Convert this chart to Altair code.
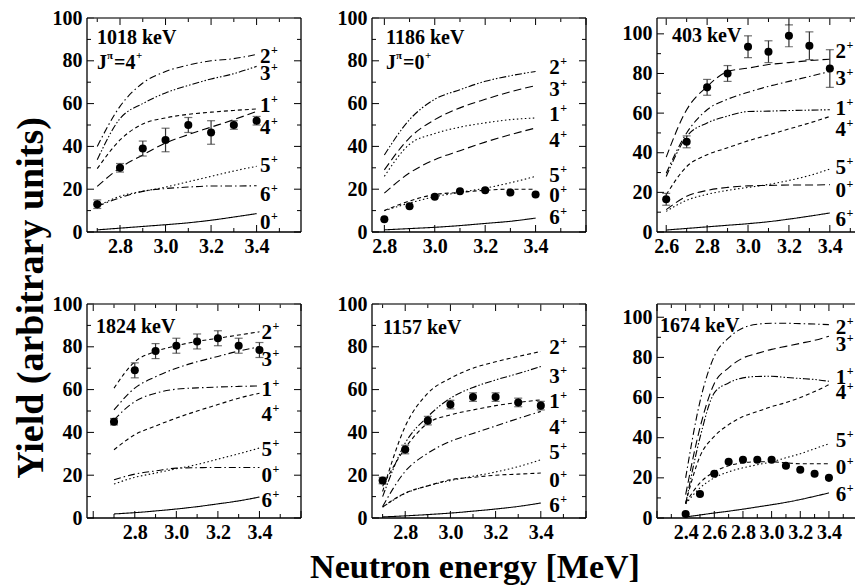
import math
import altair as alt
import pandas as pd

FONT = "Liberation Serif"

DASH_NAMES = ["solid", "dash", "longdash", "dashdot", "dashdot2", "dot"]
DASH_ARRAYS = [[1, 0], [4, 3], [8, 4], [7, 3, 1.5, 3], [7, 2, 1.5, 2, 1.5, 2], [1.5, 2.5]]

# ---------------- Panel 1: 1018 keV, J=4+ ----------------
p1_energy = [2.7, 2.8, 2.9, 3.0, 3.1, 3.2, 3.3, 3.4]
p1_curves = {
    "2+": [40, 58.7, 69.6, 75, 78, 80, 81, 83],
    "3+": [33.8, 53, 60, 65, 68.5, 71.5, 74, 77.4],
    "1+": [29.6, 43, 50.5, 53.3, 55, 56, 56.8, 57.5],
    "4+": [21.3, 30, 36, 41.6, 45.5, 49, 52.5, 56.4],
    "5+": [12, 16.7, 19, 21, 23.5, 26, 28.5, 30.7],
    "6+": [12, 16, 19, 20.3, 21, 21.5, 21.5, 21.6],
    "0+": [1, 1.8, 2.6, 3.4, 4.3, 5.5, 7, 8.6],
}
p1_styles = {"2+": "dashdot", "3+": "dashdot2", "1+": "dash", "4+": "longdash",
             "5+": "dot", "6+": "dashdot", "0+": "solid"}
p1_meas_x = [2.7, 2.8, 2.9, 3.0, 3.1, 3.2, 3.3, 3.4]
p1_meas_y = [13, 30, 39, 43, 50, 46.5, 50, 52]
p1_meas_err = [2, 2, 3.5, 5.5, 3.5, 5.5, 2, 2]
p1_labels = ["2", "3", "1", "4", "5", "6", "0"]
p1_label_y = [82, 74, 58.7, 48.6, 30.7, 17.4, 4]

# ---------------- Panel 2: 1186 keV, J=0+ ----------------
p2_energy = [2.8, 2.9, 3.0, 3.1, 3.2, 3.3, 3.4]
p2_curves = {
    "2+": [36, 52.5, 62, 66.5, 70.4, 73, 75],
    "3+": [29, 44, 52.5, 58, 62, 65.5, 68.4],
    "1+": [26, 41, 46, 49, 51, 52.5, 53.3],
    "4+": [18.2, 27.6, 33.8, 38, 42, 45.5, 48.6],
    "5+": [10, 13.5, 16.5, 18.5, 20.5, 23, 26],
    "0+": [10, 14.5, 17.5, 18.5, 19.5, 20, 20],
    "6+": [1, 1.6, 2.2, 3, 4, 5, 6.5],
}
p2_styles = {"2+": "dashdot2", "3+": "longdash", "1+": "dot", "4+": "longdash",
             "5+": "dot", "0+": "dash", "6+": "solid"}
p2_meas_x = [2.8, 2.9, 3.0, 3.1, 3.2, 3.3, 3.4]
p2_meas_y = [6, 12, 16.5, 19, 19.5, 18.5, 17.5]
p2_labels = ["2", "3", "1", "4", "5", "0", "6"]
p2_label_y = [76.6, 66.5, 54.8, 42.4, 26, 16.7, 6.5]

# ---------------- Panel 3: 403 keV ----------------
p3_energy = [2.6, 2.7, 2.8, 2.9, 3.0, 3.1, 3.2, 3.3, 3.4]
p3_curves = {
    "2+": [37.8, 61.7, 73.4, 81, 82.7, 84.5, 85.5, 86.5, 87.2],
    "3+": [29.7, 50, 61.7, 67, 70.5, 73.5, 76, 78.5, 81],
    "1+": [28, 48.2, 55, 58.5, 60.8, 61, 61.3, 61.5, 61.7],
    "4+": [18.8, 33, 39, 42.5, 46, 49, 52, 55, 58.3],
    "5+": [10.4, 16, 19, 21, 22.5, 24, 26, 28.5, 31.8],
    "0+": [11.3, 18, 21, 22.5, 23.3, 23.5, 23.7, 23.7, 23.9],
    "6+": [1, 1.8, 2.6, 3.4, 4.2, 5.2, 6.5, 8, 9.6],
}
p3_styles = {"2+": "longdash", "3+": "dashdot", "1+": "dashdot2", "4+": "dash",
             "5+": "dot", "0+": "longdash", "6+": "solid"}
p3_meas_x = [2.6, 2.7, 2.8, 2.9, 3.0, 3.1, 3.2, 3.3, 3.4]
p3_meas_y = [16.5, 45.5, 73, 80, 93.5, 91, 99, 94, 82.5]
p3_meas_err = [3, 3, 4, 4, 5.5, 5.5, 5.5, 7, 9.5]
p3_labels = ["2", "3", "1", "4", "5", "0", "6"]
p3_label_y = [91, 77, 62, 51.6, 32.3, 20.5, 6.2]

# ---------------- Panel 4: 1824 keV ----------------
p4_energy = [2.7, 2.8, 2.9, 3.0, 3.1, 3.2, 3.3, 3.4]
p4_curves = {
    "2+": [60.7, 73, 77.8, 80.5, 82.5, 84, 85.5, 87],
    "3+": [50.5, 60.7, 66, 70, 73, 75.5, 78, 80],
    "1+": [45.9, 54.4, 58.3, 60.2, 60.8, 61.2, 61.5, 61.7],
    "4+": [31.9, 38.9, 43, 46.7, 50, 53, 56, 58.3],
    "5+": [15.9, 19, 21, 23, 25, 27.5, 30, 32.7],
    "0+": [17.9, 20.5, 22, 23.3, 23.5, 23.6, 23.6, 23.6],
    "6+": [1.9, 2.5, 3.3, 4.2, 5.3, 6.6, 8, 9.8],
}
p4_styles = {"2+": "dash", "3+": "dashdot", "1+": "dashdot", "4+": "dash",
             "5+": "dot", "0+": "dashdot", "6+": "solid"}
p4_meas_x = [2.7, 2.8, 2.9, 3.0, 3.1, 3.2, 3.3, 3.4]
p4_meas_y = [45, 69, 78, 80.5, 82.5, 84, 80.5, 78.5]
p4_meas_err = [1.5, 3.5, 3.5, 3.5, 3.5, 3.5, 3.5, 3.5]
p4_labels = ["2", "3", "1", "4", "5", "0", "6"]
p4_label_y = [86.3, 73.9, 59.9, 48.2, 31.9, 19.4, 7.8]

# ---------------- Panel 5: 1157 keV ----------------
p5_energy = [2.7, 2.8, 2.9, 3.0, 3.1, 3.2, 3.3, 3.4]
p5_curves = {
    "2+": [12.4, 42.8, 58.3, 65.3, 70, 73, 75.5, 77.8],
    "3+": [10, 35, 47.4, 56, 61, 64.5, 67.5, 70.8],
    "1+": [14.8, 32.7, 44.3, 48.2, 50.5, 52.5, 54, 55.2],
    "4+": [5.4, 21.8, 30.3, 35.8, 39.5, 43, 46.5, 49.8],
    "5+": [5.1, 11.5, 15, 17.5, 19.5, 21.5, 24, 27.2],
    "0+": [5.1, 11.7, 15, 17.9, 19, 20, 20.5, 21],
    "6+": [0.5, 1, 1.6, 2.3, 3.2, 4.2, 5.4, 7],
}
p5_styles = {"2+": "dash", "3+": "dashdot2", "1+": "dash", "4+": "dashdot",
             "5+": "dot", "0+": "dash", "6+": "solid"}
p5_meas_x = [2.7, 2.8, 2.9, 3.0, 3.1, 3.2, 3.3, 3.4]
p5_meas_y = [17.5, 32, 45.5, 53, 56.5, 56.5, 54, 52.5]
p5_meas_err = [1.5, 2, 2, 2, 2, 2, 2, 2]
p5_labels = ["2", "3", "1", "4", "5", "0", "6"]
p5_label_y = [79.3, 66, 54.4, 42, 30.3, 17.1, 5.4]

# ---------------- Panel 6: 1674 keV ----------------
p6_energy = [2.4, 2.5, 2.6, 2.7, 2.8, 2.9, 3.0, 3.1, 3.2, 3.3, 3.4]
p6_curves = {
    "2+": [20, 58, 80.6, 89.7, 94.7, 96.5, 97, 97, 96.8, 96.6, 96.3],
    "3+": [11.6, 45, 67, 74.8, 79.7, 82, 84, 85.5, 87, 88.5, 90.5],
    "1+": [7, 40, 62.3, 67.3, 69.8, 70.5, 70.6, 70, 69.5, 69, 68.1],
    "4+": [7.5, 30.7, 40.7, 46.5, 50.5, 53, 55.5, 57.5, 60, 63, 66.4],
    "5+": [7, 15, 20, 23, 25, 26.5, 28, 30, 32, 34.5, 37],
    "0+": [7.5, 17.5, 23, 26, 27.5, 28, 28, 27.5, 27, 27, 27],
    "6+": [0.5, 1.5, 2.5, 3.4, 4.4, 5.5, 6.6, 7.8, 9.2, 10.8, 12.5],
}
p6_styles = {"2+": "dashdot", "3+": "longdash", "1+": "dashdot2", "4+": "dash",
             "5+": "dot", "0+": "dash", "6+": "solid"}
p6_meas_x = [2.4, 2.5, 2.6, 2.7, 2.8, 2.9, 3.0, 3.1, 3.2, 3.3, 3.4]
p6_meas_y = [2, 12, 22, 28, 29, 29, 29, 26, 24, 22, 20]
p6_labels = ["2", "3", "1", "4", "5", "0", "6"]
p6_label_y = [94.7, 86.4, 69.8, 62.3, 38.2, 24.9, 11.6]

Y_LABELS = [0, 20, 40, 60, 80, 100]


def steps(lo, hi, step):
    k0 = math.ceil(lo / step - 1e-9)
    k1 = math.floor(hi / step + 1e-9)
    return [round(k * step, 4) for k in range(k0, k1 + 1)]


def one():
    return pd.DataFrame({"a": [0]})


def text_px(txt, x, y, size, dy=0, align="left", baseline="middle", angle=0):
    kw = dict(text=txt, font=FONT, fontWeight="bold", fontSize=size, align=align,
              baseline=baseline, color="black")
    if dy:
        kw["dy"] = dy
    if angle:
        kw["angle"] = angle
    return alt.Chart(one()).mark_text(**kw).encode(x=alt.value(x), y=alt.value(y))


def make_panel(energy, curves, styles, mx, my, merr, labels, label_y, label_x,
               xdom, ydom, xlabels, W, H, titles, right_frame=True, extra=None):
    xs = alt.Scale(domain=xdom, nice=False, zero=False)
    ys = alt.Scale(domain=ydom, nice=False, zero=False)
    xaxis = alt.Axis(values=xlabels, format=".1f", title=None, ticks=False, tickSize=0,
                     domain=False, grid=False, labelPadding=4, labelFlush=False,
                     labelOverlap=False, labelFont=FONT, labelFontWeight="bold",
                     labelFontSize=20, labelColor="black")
    yaxis = alt.Axis(values=Y_LABELS, format="d", title=None, ticks=False, tickSize=0,
                     domain=False, grid=False, labelPadding=5, labelFlush=False,
                     labelOverlap=False, labelFont=FONT, labelFontWeight="bold",
                     labelFontSize=20, labelColor="black")

    def X(f):
        return alt.X(f, type="quantitative", scale=xs, axis=xaxis)

    def Y(f):
        return alt.Y(f, type="quantitative", scale=ys, axis=yaxis)

    rows = []
    for name, vals in curves.items():
        for e, v in zip(energy, vals):
            rows.append({"x": e, "y": v, "curve": name, "style": styles[name]})
    cdf = pd.DataFrame(rows)
    layers = [
        alt.Chart(cdf).mark_line(color="black", strokeWidth=1.1, interpolate="monotone").encode(
            x=X("x"), y=Y("y"), detail="curve:N",
            strokeDash=alt.StrokeDash("style:N", scale=alt.Scale(domain=DASH_NAMES, range=DASH_ARRAYS),
                                      legend=None))
    ]
    mdf = pd.DataFrame({"x": mx, "y": my})
    if merr is not None:
        mdf["lo"] = [a - b for a, b in zip(my, merr)]
        mdf["hi"] = [a + b for a, b in zip(my, merr)]
        layers.append(alt.Chart(mdf).mark_rule(color="#333333", strokeWidth=1.2).encode(
            x=X("x"), y=Y("lo"), y2="hi"))
        layers.append(alt.Chart(mdf).mark_tick(color="#333333", orient="horizontal", size=8,
                                               thickness=1.2).encode(x=X("x"), y=Y("lo")))
        layers.append(alt.Chart(mdf).mark_tick(color="#333333", orient="horizontal", size=8,
                                               thickness=1.2).encode(x=X("x"), y=Y("hi")))
    layers.append(alt.Chart(mdf).mark_circle(color="black", opacity=1, size=65).encode(
        x=X("x"), y=Y("y")))

    ldf = pd.DataFrame({"lx": [label_x] * len(labels), "ly": label_y, "t": labels})
    layers.append(alt.Chart(ldf).mark_text(font=FONT, fontWeight="bold", fontSize=21, align="left",
                                           baseline="middle", color="black").encode(
        x=X("lx"), y=Y("ly"), text="t:N"))
    layers.append(alt.Chart(ldf).mark_text(font=FONT, fontWeight="bold", fontSize=12, align="left",
                                           baseline="middle", color="black", text="+",
                                           dx=11, dy=-7).encode(x=X("lx"), y=Y("ly")))

    for t in titles:
        layers.append(t)

    # ticks
    x_major = steps(xdom[0], xdom[1], 0.2)
    x_minor = [v for v in steps(xdom[0], xdom[1], 0.1) if v not in x_major]
    y_major = steps(ydom[0], ydom[1], 20)
    y_minor = [v for v in steps(ydom[0], ydom[1], 10) if v not in y_major]
    for vals, L in ((x_major, 7), (x_minor, 4)):
        tdf = pd.DataFrame({"t": vals})
        layers.append(alt.Chart(tdf).mark_rule(color="black", strokeWidth=1).encode(
            x=X("t"), y=alt.value(H), y2=alt.value(H - L)))
        layers.append(alt.Chart(tdf).mark_rule(color="black", strokeWidth=1).encode(
            x=X("t"), y=alt.value(0), y2=alt.value(L)))
    for vals, L in ((y_major, 7), (y_minor, 4)):
        tdf = pd.DataFrame({"t": vals})
        layers.append(alt.Chart(tdf).mark_rule(color="black", strokeWidth=1).encode(
            y=Y("t"), x=alt.value(0), x2=alt.value(L)))
        if right_frame:
            layers.append(alt.Chart(tdf).mark_rule(color="black", strokeWidth=1).encode(
                y=Y("t"), x=alt.value(W), x2=alt.value(W - L)))

    # frame
    layers.append(alt.Chart(one()).mark_rule(color="black", strokeWidth=1.3).encode(
        x=alt.value(0), x2=alt.value(W), y=alt.value(H)))
    layers.append(alt.Chart(one()).mark_rule(color="#444444", strokeWidth=1.3).encode(
        x=alt.value(0), x2=alt.value(W), y=alt.value(0)))
    layers.append(alt.Chart(one()).mark_rule(color="black", strokeWidth=1.3).encode(
        x=alt.value(0), y=alt.value(0), y2=alt.value(H)))
    if right_frame:
        layers.append(alt.Chart(one()).mark_rule(color="black", strokeWidth=1.3).encode(
            x=alt.value(W), y=alt.value(0), y2=alt.value(H)))
    if extra:
        layers.extend(extra)
    return alt.layer(*layers).properties(width=W, height=H)


def jpi(x, y, val):
    return [
        text_px("J", x, y, 20),
        text_px("π", x + 10, y, 11, dy=-7),
        text_px("=" + val, x + 17, y, 20),
        text_px("+", x + 39, y, 11, dy=-7),
    ]


W, H, W3 = 214, 214, 198

y_title = text_px("Yield (arbitrary units)", -55, 280, 38, align="center", baseline="middle", angle=270)
x_title = text_px("Neutron energy [MeV]", 103, 274, 34, align="center", baseline="alphabetic")

p1 = make_panel(p1_energy, p1_curves, p1_styles, p1_meas_x, p1_meas_y, p1_meas_err,
                p1_labels, p1_label_y, 3.415, [2.655, 3.595], [0, 100], [2.8, 3.0, 3.2, 3.4], W, H,
                [text_px("1018 keV", 10, 20, 20)] + jpi(10, 45, "4"), extra=[y_title])
p2 = make_panel(p2_energy, p2_curves, p2_styles, p2_meas_x, p2_meas_y, None,
                p2_labels, p2_label_y, 3.454, [2.751, 3.6], [0, 100], [2.8, 3.0, 3.2, 3.4], W, H,
                [text_px("1186 keV", 14, 20, 20)] + jpi(14, 45, "0"))
p3 = make_panel(p3_energy, p3_curves, p3_styles, p3_meas_x, p3_meas_y, p3_meas_err,
                p3_labels, p3_label_y, 3.428, [2.555, 3.523], [0, 108], [2.6, 2.8, 3.0, 3.2, 3.4], W3, H,
                [text_px("403 keV", 15, 18, 20)], right_frame=False)
p4 = make_panel(p4_energy, p4_curves, p4_styles, p4_meas_x, p4_meas_y, p4_meas_err,
                p4_labels, p4_label_y, 3.41, [2.57, 3.6], [0, 100], [2.8, 3.0, 3.2, 3.4], W, H,
                [text_px("1824 keV", 9, 23, 20)])
p5 = make_panel(p5_energy, p5_curves, p5_styles, p5_meas_x, p5_meas_y, p5_meas_err,
                p5_labels, p5_label_y, 3.437, [2.653, 3.6], [0, 100], [2.8, 3.0, 3.2, 3.4], W, H,
                [text_px("1157 keV", 11, 24, 20)], extra=[x_title])
p6 = make_panel(p6_energy, p6_curves, p6_styles, p6_meas_x, p6_meas_y, None,
                p6_labels, p6_label_y, 3.447, [2.2, 3.582], [0, 106.6], [2.4, 2.6, 2.8, 3.0, 3.2, 3.4], W3, H,
                [text_px("1674 keV", 3, 22, 20)], right_frame=False)

chart = alt.concat(p1, p2, p3, p4, p5, p6, columns=3,
                   spacing={"row": 72, "column": 71}, bounds="flush").properties(
    padding={"left": 5, "top": 0, "right": 0, "bottom": 0},
    background="white",
).configure_view(strokeWidth=0)

chart.save("out.html", embed_options={"renderer": "svg", "actions": False})
